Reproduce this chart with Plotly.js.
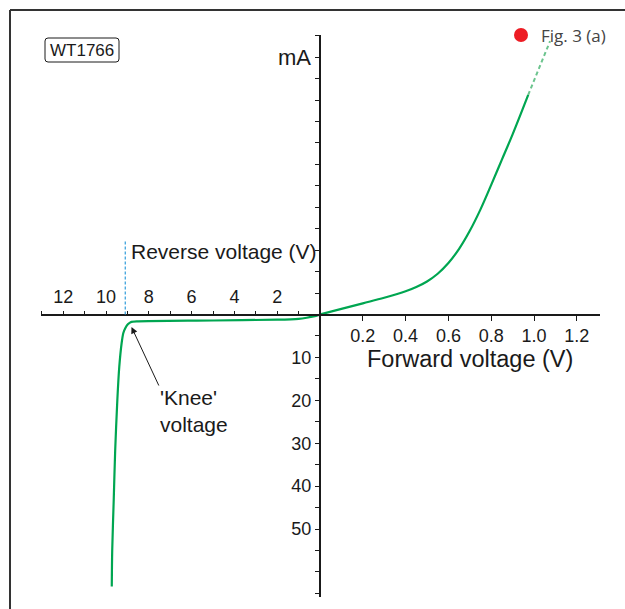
<!DOCTYPE html>
<html>
<head>
<meta charset="utf-8">
<script src="https://cdn.plot.ly/plotly-3.0.1.min.js"></script>
<style>html,body{margin:0;padding:0;background:#fff;}#chart{width:625px;height:609px;}</style>
</head>
<body>
<div id="chart"></div>
<script>
// ---- Data ----
// Forward bias: voltage (V) vs current (mA)
const forwardVoltage = [0, 0.1, 0.2, 0.3, 0.4, 0.45, 0.5, 0.55, 0.6, 0.65, 0.7, 0.75, 0.8, 0.85, 0.9, 0.973];
const forwardCurrent = [0, 1.3, 2.6, 3.9, 5.4, 6.4, 7.7, 9.5, 12.0, 15.3, 19.5, 24.5, 30.2, 36.1, 42.0, 51.2];
// Extrapolated (dashed) part of the forward curve
const forwardExtVoltage = [0.973, 1.075];
const forwardExtCurrent = [51.2, 63.7];
// Reverse bias: reverse voltage (V) vs reverse current (mA, magnitude)
const reverseVoltage = [0, 0.3, 0.62, 1.0, 2.0, 5.0, 8.5, 8.85, 8.98, 9.1, 9.19, 9.27, 9.38, 9.47, 9.57, 9.64, 9.71, 9.73];
const reverseCurrent = [0, 0.45, 0.75, 1.0, 1.2, 1.4, 1.6, 1.8, 2.3, 3.2, 4.3, 6.7, 12.2, 19.9, 31.6, 43.4, 55.0, 63.4];
const kneeVoltage = 9.1;
// Tick labels
const forwardTicks = [0.2, 0.4, 0.6, 0.8, 1.0, 1.2];
const forwardTickLabels = ['0.2', '0.4', '0.6', '0.8', '1.0', '1.2'];
const reverseTicks = [1, 2, 3, 4, 5, 6, 7, 8, 9, 10, 11, 12, 13];
const reverseTickLabels = ['', '2', '', '4', '', '6', '', '8', '', '10', '', '12', ''];
const currentTicks = [5, 10, 15, 20, 25, 30, 35, 40, 45, 50, 55, 60, 65];
const reverseCurrentLabels = ['', '10', '', '20', '', '30', '', '40', '', '50', '', '', ''];

// ---- Layout helpers (pixel -> paper) ----
const W = 625, H = 609;
const px = x => x / W;
const py = y => 1 - y / H;

const ORIGIN_X = 320, ORIGIN_Y = 314.5;
const FWD_PX_PER_V = 214, REV_PX_PER_V = 21.4, PX_PER_MA = 4.29;
const X_RIGHT = 600, X_LEFT = 40.7, Y_TOP = 35, Y_BOTTOM = 597;

const FONT = 'Liberation Sans, Arial, sans-serif';
const INK = '#1a1a1a';
const GREEN = '#00A651';

const axisCommon = {
  showline: true, linecolor: INK, linewidth: 2,
  ticks: 'outside', tickcolor: INK, tickwidth: 1,
  showgrid: false, zeroline: false, fixedrange: true,
  tickfont: {family: FONT, size: 18, color: INK}
};

const traces = [
  {x: forwardVoltage, y: forwardCurrent, xaxis: 'x', yaxis: 'y', mode: 'lines',
   line: {color: GREEN, width: 2.2, shape: 'spline', smoothing: 1}, hoverinfo: 'skip'},
  {x: forwardExtVoltage, y: forwardExtCurrent, xaxis: 'x', yaxis: 'y', mode: 'lines',
   line: {color: '#6cc48e', width: 2, dash: '4px,3px'}, hoverinfo: 'skip'},
  {x: reverseVoltage, y: reverseCurrent, xaxis: 'x2', yaxis: 'y2', mode: 'lines',
   line: {color: GREEN, width: 2.2, shape: 'spline', smoothing: 0.8}, hoverinfo: 'skip'}
];

function roundRect(x0, y0, x1, y1, r) {
  const p = (x, y) => px(x) + ',' + py(y);
  return 'M' + p(x0 + r, y0) + ' L' + p(x1 - r, y0) + ' Q' + p(x1, y0) + ' ' + p(x1, y0 + r) +
         ' L' + p(x1, y1 - r) + ' Q' + p(x1, y1) + ' ' + p(x1 - r, y1) +
         ' L' + p(x0 + r, y1) + ' Q' + p(x0, y1) + ' ' + p(x0, y1 - r) +
         ' L' + p(x0, y0 + r) + ' Q' + p(x0, y0) + ' ' + p(x0 + r, y0) + ' Z';
}

const layout = {
  width: W, height: H,
  margin: {l: 0, r: 0, t: 0, b: 0, pad: 0},
  paper_bgcolor: '#fff', plot_bgcolor: 'rgba(0,0,0,0)',
  showlegend: false,
  font: {family: FONT, color: INK},
  xaxis: Object.assign({}, axisCommon, {
    domain: [px(ORIGIN_X), px(X_RIGHT)],
    range: [0, (X_RIGHT - ORIGIN_X) / FWD_PX_PER_V],
    anchor: 'free', position: py(ORIGIN_Y), side: 'bottom',
    tickmode: 'array', tickvals: forwardTicks, ticktext: forwardTickLabels, ticklen: 5
  }),
  xaxis2: Object.assign({}, axisCommon, {
    domain: [px(X_LEFT), px(ORIGIN_X)],
    range: [(ORIGIN_X - X_LEFT) / REV_PX_PER_V, 0],
    anchor: 'free', position: py(ORIGIN_Y), side: 'top',
    tickmode: 'array', tickvals: reverseTicks, ticktext: reverseTickLabels, ticklen: 3
  }),
  yaxis: Object.assign({}, axisCommon, {
    domain: [py(ORIGIN_Y), py(Y_TOP)],
    range: [0, (ORIGIN_Y - Y_TOP) / PX_PER_MA],
    anchor: 'free', position: px(ORIGIN_X), side: 'left',
    tickmode: 'array', tickvals: currentTicks, showticklabels: false, ticklen: 4
  }),
  yaxis2: Object.assign({}, axisCommon, {
    domain: [py(Y_BOTTOM), py(ORIGIN_Y)],
    range: [(Y_BOTTOM - ORIGIN_Y) / PX_PER_MA, 0],
    anchor: 'free', position: px(ORIGIN_X), side: 'left',
    tickmode: 'array', tickvals: currentTicks, ticktext: reverseCurrentLabels, ticklen: 4
  }),
  shapes: [
    // frame (top and left edges)
    {type: 'line', xref: 'paper', yref: 'paper', x0: px(10), x1: 1, y0: py(10), y1: py(10),
     line: {color: '#333', width: 2}},
    {type: 'line', xref: 'paper', yref: 'paper', x0: px(10), x1: px(10), y0: py(10), y1: 0,
     line: {color: '#333', width: 2}},
    // WT1766 label box
    {type: 'path', xref: 'paper', yref: 'paper', path: roundRect(45, 38, 119, 62, 3),
     line: {color: INK, width: 1}},
    // red dot
    {type: 'circle', xref: 'paper', yref: 'paper', x0: px(514), x1: px(528), y0: py(28), y1: py(42),
     fillcolor: '#ED1C24', line: {width: 0}},
    // knee voltage guide
    {type: 'line', xref: 'x2', yref: 'paper', x0: kneeVoltage, x1: kneeVoltage,
     y0: py(ORIGIN_Y), y1: py(240), line: {color: '#2E9BDA', width: 1.2, dash: '3px,2px'}}
  ],
  annotations: [
    {xref: 'paper', yref: 'paper', x: px(82), y: py(50), text: 'WT1766', showarrow: false,
     xanchor: 'center', yanchor: 'middle', font: {family: FONT, size: 17, color: INK}},
    {xref: 'paper', yref: 'paper', x: px(539), y: py(35), text: 'Fig. 3 (a)', showarrow: false,
     xanchor: 'left', yanchor: 'middle', font: {family: 'Open Sans, sans-serif', size: 17, color: '#444'}},
    {xref: 'paper', yref: 'paper', x: px(313), y: py(57), text: 'mA', showarrow: false,
     xanchor: 'right', yanchor: 'middle', font: {family: FONT, size: 22, color: INK}},
    {xref: 'paper', yref: 'paper', x: px(129), y: py(251), text: 'Reverse voltage (V)', showarrow: false,
     xanchor: 'left', yanchor: 'middle', font: {family: FONT, size: 21, color: INK}},
    {xref: 'paper', yref: 'paper', x: px(365), y: py(359), text: 'Forward voltage (V)', showarrow: false,
     xanchor: 'left', yanchor: 'middle', font: {family: FONT, size: 23.5, color: INK}},
    {xref: 'paper', yref: 'paper', x: px(158), y: py(411), text: "'Knee'<br>voltage", showarrow: false,
     xanchor: 'left', yanchor: 'middle', align: 'left', font: {family: FONT, size: 21, color: INK}},
    {xref: 'paper', yref: 'paper', x: px(131.5), y: py(327), text: '', showarrow: true,
     ax: 28, ay: 60, arrowhead: 2, arrowsize: 1.3, arrowwidth: 1, arrowcolor: INK, standoff: 0}
  ]
};

Plotly.newPlot('chart', traces, layout, {staticPlot: true, displayModeBar: false});
</script>
</body>
</html>
